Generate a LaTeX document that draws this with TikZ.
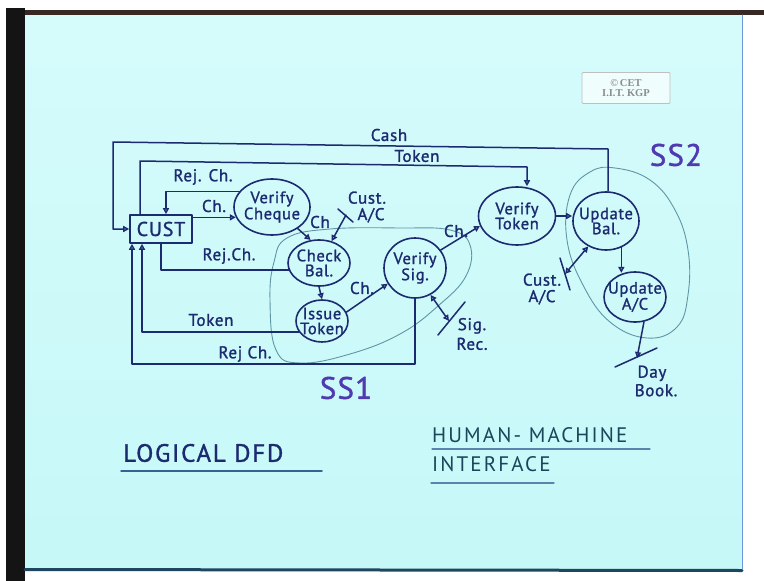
\documentclass[tikz,border=0pt]{standalone}
\usepackage{fontspec}
\setmainfont{PT Sans}
\usetikzlibrary{arrows.meta,shapes.geometric}
\definecolor{ink}{RGB}{28,42,112}
\definecolor{slidetop}{RGB}{214,251,251}
\definecolor{slidebot}{RGB}{198,248,248}
\definecolor{blobc}{RGB}{95,150,165}
\definecolor{ssc}{RGB}{80,58,178}
\definecolor{hmc}{RGB}{25,70,90}
\definecolor{ulc}{RGB}{50,100,150}
\definecolor{framec}{RGB}{55,40,35}
\newfontfamily\handfont[FakeBold=1.3,LetterSpace=4]{PT Sans}
\newfontfamily\logofont{Liberation Serif}
\begin{document}
\begin{tikzpicture}[x=1pt,y=-1pt,line join=round,line cap=round,
  proc/.style={ellipse,draw=ink,line width=1.6pt,inner xsep=-5pt,inner ysep=0pt,text=ink,align=center,
    font=\handfont\fontsize{16.5}{15}\selectfont},
  custbox/.style={draw=ink,line width=1.6pt,minimum width=62,minimum height=28,inner sep=0pt,
    text=ink,font=\handfont\fontsize{20}{20}\selectfont},
  flow/.style={draw=ink,line width=1.5pt,-{Triangle[open,length=6pt,width=6pt]}},
  flowtwo/.style={draw=ink,line width=1.5pt,{Triangle[open,length=6pt,width=6pt]}-{Triangle[open,length=6pt,width=6pt]}},
  plain/.style={draw=ink,line width=1.5pt},
  lab/.style={text=ink,inner sep=0pt,align=center,font=\handfont\fontsize{17}{15}\selectfont},
  blob/.style={draw=blobc,line width=0.9pt},
  sslab/.style={text=ssc,inner sep=0pt,font=\handfont\fontsize{31}{31}\selectfont},
]
\useasboundingbox (0,0) rectangle (764,581);
% background / slide
\fill[white] (0,0) rectangle (764,581);
\fill[black!92] (6,8) rectangle (25,581);
\shade[top color=slidetop,bottom color=slidebot] (25,14) rectangle (742,569);
\fill[framec] (25,10) rectangle (764,15);
\draw[line width=3pt,color={rgb,255:red,30;green,70;blue,95}] (25,569.5) -- (742,570.5);
\draw[line width=1pt,color={rgb,255:red,110;green,150;blue,220}] (742,15) -- (742,569);

% logo
\node[draw=black!25,fill=white!60!slidetop,line width=0.8pt,minimum width=88,minimum height=31,
  rounded corners=1pt,inner sep=0pt,text=black!45,align=center,
  font=\logofont\fontsize{10.5}{10}\selectfont\bfseries] (logo) at (626,88) {\char"00A9\,CET\\I.I.T. KGP};

% subsystem outlines
\draw[blob] plot[smooth cycle,tension=0.7] coordinates {(287,238) (330,229) (400,228) (450,230)
  (470,245) (466,276) (438,306) (400,334) (350,354) (300,363) (276,350) (270,300) (274,262)};
\draw[blob] plot[smooth cycle,tension=0.7] coordinates {(615,168) (650,180) (675,210) (688,250)
  (688,295) (677,327) (647,338) (610,322) (583,285) (567,240) (570,195) (590,172)};

% processes
\node[custbox] (cust) at (161,229) {CUST};
\node[proc,minimum width=76,minimum height=56] (vc) at (272,207) {Verify\\Cheque};
\node[proc,minimum width=62,minimum height=46] (cb) at (319,263) {Check\\Bal.};
\node[proc,minimum width=52,minimum height=42] (it) at (322,321) {Issue\\Token};
\node[proc,minimum width=62,minimum height=60] (vs) at (415,268) {Verify\\Sig.};
\node[proc,minimum width=77,minimum height=58] (vt) at (517,216) {Verify\\Token};
\node[proc,minimum width=66,minimum height=58] (ub) at (606,221) {Update\\Bal.};
\node[proc,minimum width=60,minimum height=50] (ua) at (635,297) {Update\\A/C};

% bend points
\coordinate (c1) at (113,142);
\coordinate (c2) at (608,149);
\coordinate (t1) at (140,161);
\coordinate (t2) at (527,167);
\coordinate (rj) at (166,187);
\coordinate (tk) at (142,332);
\coordinate (rb) at (132,364);

% connectors
\draw[flow] (ub.north -| c2) -- (c2) -- (c1) -- (c1 |- cust.west) -- (cust.west);
\draw[flow] (cust.north -| t1) -- (t1) -- (t2) -- (t2 |- vt.north);
\draw[flow] (vc.155) -- (vc.155 -| rj) -- (rj |- cust.north);
\draw[flow] (cust.east |- vc.196) -- (vc.196);
\draw[plain] (cb.193) -- (cb.193 -| cust.south) -- (cust.south);
\draw[flow] (it.206) -- (it.206 -| tk) -- (tk |- cust.south);
\draw[flow] (vs.south) -- (vs.south |- rb) -- (rb) -- (rb |- cust.south);
\draw[flow] (vc.-40) -- (cb.110);
\draw[flow] (cb.south) -- (it.north);
\draw[flow] (it.20) -- (vs.210);
\draw[flow] (vs.35) -- (vt.195);
\draw[flow] (vt.east) -- (vt.east -| ub.west);
\draw[flow] (ub.-60) -- (ub.-60 |- ua.115);

% data stores
\coordinate (caLa) at (338,209);
\coordinate (caLb) at (353,222);
\coordinate (caL) at (346,215);
\draw[plain] (caLa) -- (caLb);
\draw[flow] (caL) -- (cb.60);

\coordinate (caRa) at (560,258);
\coordinate (caRb) at (570,290);
\coordinate (caR) at (565,274);
\draw[plain] (caRa) -- (caRb);
\draw[flowtwo] (caR) -- (ub.235);

\coordinate (sra) at (438,335);
\coordinate (srb) at (465,302);
\coordinate (sr) at (449,321);
\draw[plain] (sra) -- (srb);
\draw[flowtwo] (vs.-60) -- (sr);

\coordinate (dba) at (615,367);
\coordinate (dbb) at (657,348);
\coordinate (db) at (637,358);
\draw[plain] (dba) -- (dbb);
\draw[flow] (ua.-70) -- (db);

% labels
\node[lab] (lcash) at (389,135) {Cash};
\node[lab] (ltok) at (417,156) {Token};
\node[lab] (lrej1) at (203,177) {Rej. Ch.};
\node[lab] (lch1) at (214,206) {Ch.};
\node[lab] (lrej2) at (229,256) {Rej.Ch.};
\node[lab] (ltok2) at (211,320) {Token};
\node[lab] (lrej3) at (245,354) {Rej Ch.};
\node[lab] (lch2) at (320,222) {Ch};
\node[lab] (lch3) at (362,288) {Ch.};
\node[lab] (lch4) at (456,231) {Ch.};
\node[lab] (lcal) at (367,207) {Cust.\\[1.5pt]\hspace*{8pt}A/C};
\node[lab] (lcar) at (542,289) {Cust.\\[1.5pt]A/C};
\node[lab] (lsig) at (472,334) {Sig.\\[3pt]Rec.};
\node[lab] (ldb) at (652,381) {Day\\[2pt]\hspace*{8pt}Book.};

\node[sslab] (ss1) at (346,388) {SS1};
\node[sslab] (ss2) at (676,155) {SS2};

% bottom titles
\node[anchor=west,text=ink,inner sep=0pt,font=\handfont\fontsize{25}{25}\selectfont\addfontfeatures{LetterSpace=7}] (logical) at (123,453) {LOGICAL DFD};
\draw[line width=1.5pt,draw=ulc] (121,471) -- (322,471);
\node[anchor=west,text=hmc,inner sep=0pt,font=\fontsize{21}{21}\selectfont\addfontfeatures{LetterSpace=10}] (hm) at (432,435) {HUMAN- MACHINE};
\draw[line width=1.2pt,draw=ulc!80] (432,449) -- (650,449);
\node[anchor=west,text=hmc,inner sep=0pt,font=\fontsize{21}{21}\selectfont\addfontfeatures{LetterSpace=10}] (intf) at (432,464) {INTERFACE};
\draw[line width=1.2pt,draw=ulc!80] (431,483) -- (554,483);
\end{tikzpicture}
\end{document}
